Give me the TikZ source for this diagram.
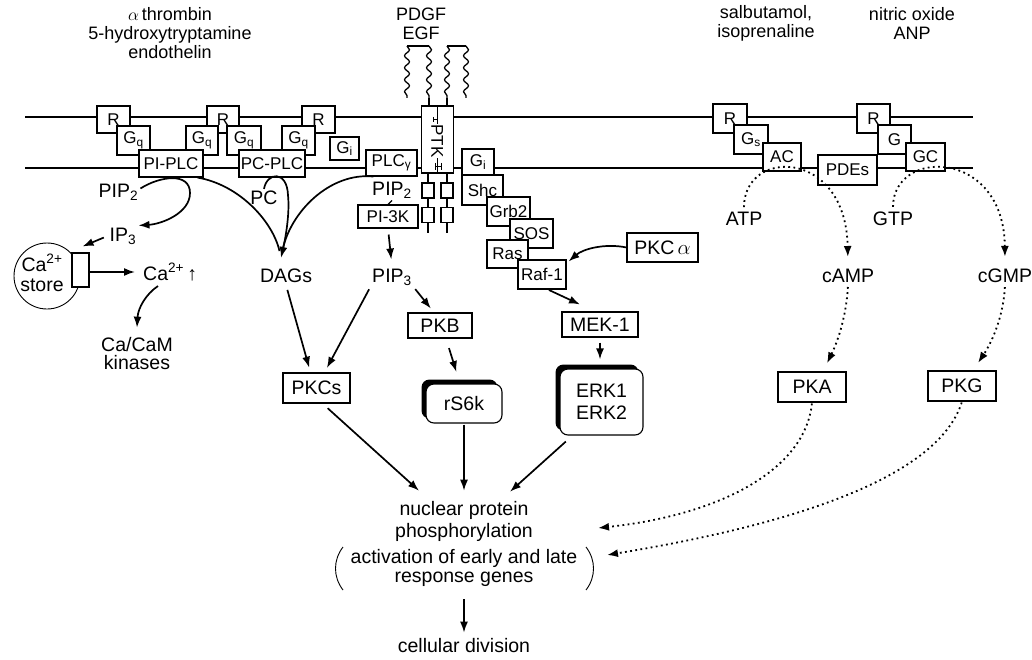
\documentclass[tikz,border=0pt]{standalone}
\usepackage{fontspec}
\setmainfont{Liberation Sans}
\usetikzlibrary{arrows.meta,decorations.pathmorphing,shadows}
\newcommand{\myL}{\fontsize{19.5}{21}\selectfont}
\newcommand{\myS}{\fontsize{17}{18}\selectfont}
\newcommand{\myT}{\fontsize{18}{19}\selectfont}
\begin{document}
\begin{tikzpicture}[x=1pt,y=-1pt,
  lbl/.style={font=\myL, inner sep=2pt},
  toplbl/.style={font=\myT, inner sep=1pt, align=center},
  sbox/.style={draw, fill=white, line width=1.1pt, font=\myS, inner sep=0pt},
  bbox/.style={draw, fill=white, line width=1.1pt, font=\myL, inner sep=0pt},
  ln/.style={line width=1.7pt},
  arr/.style={line width=1.7pt, -{Latex[length=11pt,width=8pt]}, shorten <=5pt, shorten >=5pt},
  dotarr/.style={line width=1.8pt, dash pattern=on 1.8pt off 3.4pt, -{Latex[length=11pt,width=8pt]}},
  mem/.style={line width=2pt},
  wave/.style={line width=1.3pt, decorate, decoration={snake, amplitude=2.5pt, segment length=12pt}},
  kin/.style={draw, fill=white, line width=1.1pt, font=\myL, rounded corners=8pt, inner sep=0pt,
    general shadow={fill=black, shadow xshift=-4.5pt, shadow yshift=4.5pt}},
]
\useasboundingbox (0,0) rectangle (1032,660);

% ligands
\node[toplbl] (lig1) at (170,33) {$\alpha$\,thrombin\\5-hydroxytryptamine\\endothelin};
\node[toplbl] (lig2) at (421,23.5) {PDGF\\EGF};
\node[toplbl] (lig3) at (766,23.5) {salbutamol,\\isoprenaline};
\node[toplbl] (lig4) at (912,23.5) {nitric oxide\\ANP};

% membrane
\draw[mem] (25,117) -- (973,117);
\draw[mem] (25,168) -- (973,168);

% receptors
\node[sbox, minimum width=33pt, minimum height=27pt] (r1) at (113.5,119.5) {R};
\node[sbox, minimum width=32pt, minimum height=27pt] (r2) at (223,119.5) {R};
\node[sbox, minimum width=33pt, minimum height=27pt] (r3) at (318.5,119.5) {R};
\node[sbox, minimum width=34pt, minimum height=29pt] (r4) at (730,118.5) {R};
\node[sbox, minimum width=33pt, minimum height=29pt] (r5) at (873.5,118.5) {R};

% G proteins
\node[sbox, minimum width=33pt, minimum height=29pt] (gq1) at (133.5,140.5) {G\textsubscript{q}};
\node[sbox, minimum width=32pt, minimum height=29pt] (gq2) at (202,140.5) {G\textsubscript{q}};
\node[sbox, minimum width=34pt, minimum height=29pt] (gq3) at (244,140.5) {G\textsubscript{q}};
\node[sbox, minimum width=33pt, minimum height=29pt] (gq4) at (298.5,140.5) {G\textsubscript{q}};
\node[sbox, minimum width=34pt, minimum height=29pt] (gs) at (751,139.5) {G\textsubscript{s}};
\node[sbox, minimum width=33pt, minimum height=29pt] (g) at (894.5,139.5) {G};
\node[sbox, minimum width=29pt, minimum height=23pt] (gi1) at (344.5,148.5) {G\textsubscript{i}};

% effectors
\node[sbox, minimum width=64pt, minimum height=27pt] (piplc) at (171,163.5) {PI-PLC};
\node[sbox, minimum width=66pt, minimum height=27pt] (pcplc) at (272,163.5) {PC-PLC};
\node[sbox, minimum width=51pt, minimum height=26pt] (plcg) at (391.5,163) {PLC\textsubscript{γ}};
\node[sbox, minimum width=38pt, minimum height=28pt] (ac) at (782,157) {AC};
\node[sbox, minimum width=59pt, minimum height=30pt] (pdes) at (847.5,170) {PDEs};
\node[sbox, minimum width=39pt, minimum height=28pt] (gc) at (925.5,157) {GC};

% receptor tyrosine kinase
\draw[line width=1.3pt] (407,46) -- (429,46) (447,46) -- (466,46);
\draw[wave] (407,46) -- (407,98);
\draw[wave] (429,46) -- (429,98);
\draw[wave] (447,46) -- (447,98);
\draw[wave] (466,46) -- (466,98);
\draw[line width=1.3pt] (429,98) -- (429,106) (447,98) -- (447,106);
\draw[line width=1.3pt] (428,173) -- (428,233) (447,173) -- (447,233);
\node[sbox, minimum width=15.5pt, minimum height=67pt] (ptkl) at (429.5,139.5) {};
\node[sbox, minimum width=15.5pt, minimum height=67pt] (ptkr) at (445.3,139.5) {};
\node[font=\myS, rotate=-90, fill=white, inner sep=0.8pt] (ptk) at (437.3,141) {PTK};
\draw[line width=1pt] (433,117) -- (433,122) (433,119.5) -- (438,119.5);
\draw[line width=1pt] (435,163) -- (435,170) (441,163) -- (441,170) (435,167) -- (441,167);
\node[sbox, minimum width=12pt, minimum height=15pt] (d1) at (428,190.5) {};
\node[sbox, minimum width=12pt, minimum height=15pt] (d2) at (428,215) {};
\node[sbox, minimum width=12pt, minimum height=15pt] (d3) at (447,190.5) {};
\node[sbox, minimum width=12pt, minimum height=15pt] (d4) at (447,215) {};

% adaptor cascade
\node[sbox, minimum width=32pt, minimum height=26pt] (gi2) at (478,162) {G\textsubscript{i}};
\node[sbox, minimum width=41pt, minimum height=30pt] (shc) at (482.5,190) {Shc};
\node[sbox, minimum width=43pt, minimum height=29pt] (grb) at (508.5,211.5) {Grb2};
\node[sbox, minimum width=43pt, minimum height=29pt] (sos) at (531.5,233.5) {SOS};
\node[sbox, minimum width=41pt, minimum height=28pt] (ras) at (507.5,254) {Ras};
\node[sbox, minimum width=48pt, minimum height=29pt] (raf) at (542,274.5) {Raf-1};

% PI-3K
\node[lbl] (pipb) at (392,190) {PIP\textsubscript{2}};
\node[sbox, minimum width=60pt, minimum height=23pt] (pi3k) at (388,216.5) {PI-3K};

% left: calcium
\node[lbl] (pipa) at (118.5,192.5) {PIP\textsubscript{2}};
\node[lbl] (ipthree) at (123,236) {IP\textsubscript{3}};
\node[circle, draw, line width=0.9pt, minimum size=66pt, inner sep=0pt] (store) at (47,276) {};
\node[lbl, align=center, font=\fontsize{19.5}{20}\selectfont] (storetxt) at (42,273) {Ca\textsuperscript{2+}\\store};
\node[draw, fill=white, line width=1.1pt, minimum width=17pt, minimum height=34pt, inner sep=0pt] (pump) at (80.5,270) {};
\node[lbl, anchor=west] (ca) at (141,272) {Ca\textsuperscript{2+}\,↑};
\node[lbl, align=center, font=\fontsize{19.5}{18}\selectfont] (cacam) at (137,354) {Ca/CaM\\kinases};

% lipid messengers
\node[lbl] (pc) at (264,198) {PC};
\node[lbl] (dags) at (286,276) {DAGs};
\node[lbl] (pipc) at (392,277) {PIP\textsubscript{3}};

% kinases
\node[bbox, minimum width=71pt, minimum height=29pt] (pkca) at (662.5,247.5) {PKC\,$\alpha$};
\node[bbox, minimum width=64pt, minimum height=25pt] (pkb) at (440,325.5) {PKB};
\node[bbox, minimum width=76pt, minimum height=25pt] (mek) at (600,324.5) {MEK-1};
\node[bbox, minimum width=67pt, minimum height=30pt] (pkcs) at (316.5,388) {PKCs};
\node[bbox, minimum width=68pt, minimum height=30pt] (pka) at (812,387) {PKA};
\node[bbox, minimum width=68pt, minimum height=30pt] (pkg) at (962,386) {PKG};
\node[kin, minimum width=76pt, minimum height=39pt] (rs6k) at (464,403.5) {rS6k};
\node[kin, minimum width=83pt, minimum height=66pt, align=center, font=\fontsize{19.5}{22}\selectfont] (erk) at (601.5,402) {ERK1\\ERK2};

% cyclic nucleotides
\node[lbl] (atp) at (744,219) {ATP};
\node[lbl] (gtp) at (893,219) {GTP};
\node[lbl] (camp) at (848,276) {cAMP};
\node[lbl] (cgmp) at (1005,276) {cGMP};

% nuclear
\node[lbl, align=center, font=\fontsize{19.5}{22}\selectfont] (nuc) at (464,521) {nuclear protein\\phosphorylation};
\node[lbl, align=center, font=\fontsize{19.5}{19.5}\selectfont] (act) at (464,568) {activation of early and late\\response genes};
\node[lbl] (cell) at (464,646) {cellular division};
\draw[line width=0.9pt] (343,547) .. controls (333,560) and (333,577) .. (343,590);
\draw[line width=0.9pt] (586,547) .. controls (596,560) and (596,577) .. (586,590);
\coordinate (pin1) at (598,528);
\coordinate (pin2) at (607,555);

% connectors: calcium branch
\draw[arr, shorten <=0pt, shorten >=0pt] ([yshift=4pt]pipa.east) .. controls (160,176) and (190,172) .. (190,193) .. controls (190,213) and (162,224) .. (ipthree.north east);
\draw[arr, shorten <=4pt, shorten >=0pt] (ipthree.west) -- ([xshift=2pt,yshift=6pt]pump.north);
\draw[arr, shorten <=0pt, shorten >=0pt] ([yshift=-2pt]pump.east) -- ([xshift=-6pt]ca.west);
\draw[arr, shorten <=0pt, shorten >=0pt] ([xshift=17pt,yshift=-3pt]ca.south west) .. controls (146,294) and (138,308) .. ([yshift=8pt]cacam.north);

% DAG branch
\coordinate (dagtip) at ([xshift=-5pt,yshift=9pt]dags.north);
\draw[ln, shorten >=7pt] ([xshift=-6pt]piplc.south east) .. controls (240,185) and (273,222) .. (dagtip);
\draw[ln, shorten >=7pt] ([xshift=8pt]plcg.south west) .. controls (330,172) and (290,212) .. (dagtip);
\draw[arr, shorten <=0pt, shorten >=0pt] (pc.north) .. controls (267,172) and (287,170) .. (288,195) .. controls (290,215) and (285,240) .. (dagtip);

% PI-3K branch
\draw[line width=1.3pt] (pipb.south) -- (pi3k.north);
\draw[arr, shorten <=6pt, shorten >=7pt] (pi3k.south) -- (pipc.north);
\draw[arr] (dags.south) -- ([xshift=-6pt]pkcs.north);
\draw[arr, shorten <=2pt] (pipc.south west) -- ([xshift=8pt]pkcs.north);
\draw[arr, shorten <=2pt] (pipc.south east) -- ([xshift=-6pt]pkb.north);
\draw[arr, shorten <=10pt, shorten >=12pt] ([xshift=6pt]pkb.south) -- ([xshift=-4pt]rs6k.north);

% MAPK branch
\draw[arr, shorten <=1pt, shorten >=0pt] ([xshift=6pt]raf.south) -- ([xshift=-20pt,yshift=7pt]mek.north);
\draw[arr, shorten <=0pt, shorten >=0pt] (pkca.west) .. controls (605,243) and (583,249) .. ([xshift=2pt,yshift=-2pt]raf.north east);
\draw[arr, shorten >=9pt] (mek.south) -- ([xshift=-1.5pt]erk.north);

% to nucleus
\draw[arr, shorten <=7pt, shorten >=0pt] ([xshift=6pt]pkcs.south) -- ([xshift=-45pt,yshift=8pt]nuc.north);
\draw[arr, shorten <=1pt, shorten >=0pt] (rs6k.south) -- ([yshift=8pt]nuc.north);
\draw[arr, shorten <=9pt, shorten >=0pt] ([xshift=-29pt]erk.south) -- ([xshift=46pt,yshift=7pt]nuc.north);
\draw[arr, shorten <=10pt, shorten >=4pt] (act.south) -- (cell.north);

% cyclic nucleotide branch (dotted)
\draw[dotarr, shorten <=3pt, shorten >=10pt] (atp.north) .. controls (744,148) and (846,148) .. (camp.north);
\draw[dotarr, shorten <=3pt, shorten >=10pt] (gtp.north) .. controls (893,148) and (1004,148) .. (cgmp.north);
\draw[dotarr, shorten <=2pt, shorten >=9pt] (camp.south) .. controls (846,320) and (836,345) .. ([xshift=11pt]pka.north);
\draw[dotarr, shorten <=2pt, shorten >=9pt] (cgmp.south) .. controls (1003,320) and (990,345) .. ([xshift=11pt]pkg.north);
\draw[dotarr, shorten <=1pt] (pka.south) .. controls (805,470) and (720,515) .. (pin1);
\draw[dotarr, shorten <=1pt] (pkg.south) .. controls (940,470) and (820,520) .. (pin2);
\end{tikzpicture}
\end{document}
